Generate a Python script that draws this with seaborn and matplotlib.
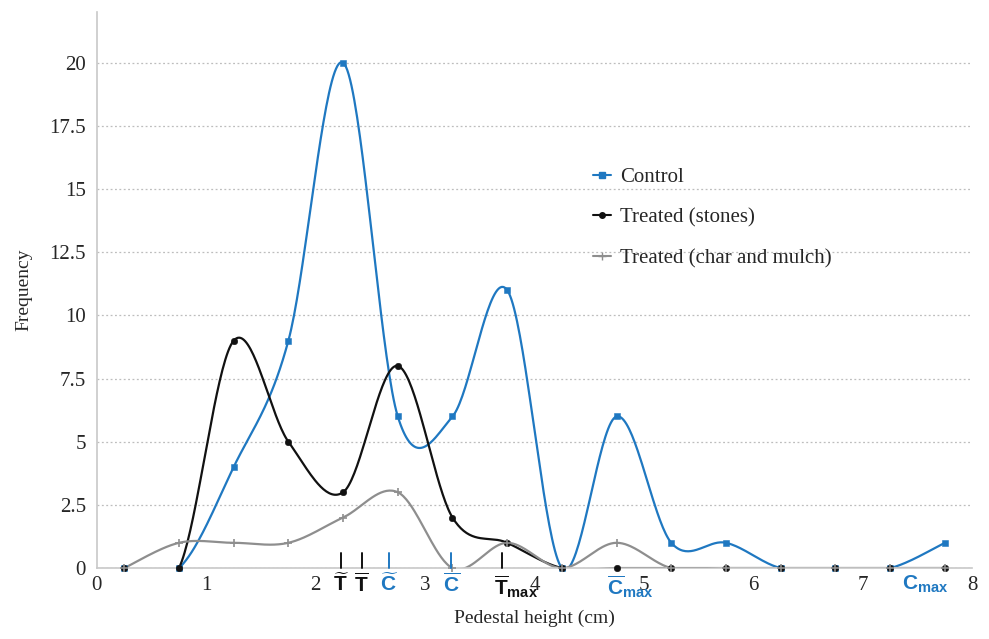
import numpy as np
import pandas as pd
import matplotlib
matplotlib.use("Agg")
import matplotlib.pyplot as plt
from matplotlib.lines import Line2D
import seaborn as sns

# pedestal height classes (cm) and frequencies
heights = [0.25, 0.75, 1.25, 1.75, 2.25, 2.75, 3.25, 3.75, 4.25, 4.75, 5.25, 5.75, 6.25, 6.75, 7.25, 7.75]
control = [0, 0, 4, 9, 20, 6, 6, 11, 0, 6, 1, 1, 0, 0, 0, 1]
stones = [0, 0, 9, 5, 3, 8, 2, 1, 0, 0, 0, 0, 0, 0, 0, 0]
char_mulch = [0, 1, 1, 1, 2, 3, 0, 1, 0, 1, 0, 0, 0, 0, 0, 0]

series_names = ["Control", "Treated (stones)", "Treated (char and mulch)"]
series_values = [control, stones, char_mulch]
colors = ["#1f78c1", "#111111", "#8e8e8e"]
markers = ["s", "o", "+"]

# statistics marked under the axis: label, position, colour, tick, alignment
stat_labels = [r"$\widetilde{\mathbf{T}}$", r"$\overline{\mathbf{T}}$", r"$\widetilde{\mathbf{C}}$",
               r"$\overline{\mathbf{C}}$", r"$\overline{\mathbf{T}}_{\mathbf{max}}$",
               r"$\overline{\mathbf{C}}_{\mathbf{max}}$", r"$\mathbf{C}_{\mathbf{max}}$"]
stat_pos = [2.23, 2.42, 2.67, 3.24, 3.70, 4.75, 7.56]
stat_text_x = [2.23, 2.42, 2.67, 3.24, 3.63, 4.66, 7.57]
stat_align = ["center", "center", "center", "center", "left", "left", "center"]
stat_color = ["#111111", "#111111", "#1f78c1", "#1f78c1", "#111111", "#1f78c1", "#1f78c1"]
stat_tick = [True, True, True, True, True, False, False]


def smooth(x, y, n=40):
    # Excel-style smoothed line (Catmull-Rom as cubic Bezier)
    pts = np.column_stack([x, y]).astype(float)
    P = np.vstack([pts[0], pts, pts[-1]])
    t = np.linspace(0, 1, n)[:, None]
    segs = []
    for i in range(1, len(P) - 2):
        p0, p1, p2, p3 = P[i - 1], P[i], P[i + 1], P[i + 2]
        c1 = p1 + (p2 - p0) / 6
        c2 = p2 - (p3 - p1) / 6
        segs.append((1 - t) ** 3 * p1 + 3 * (1 - t) ** 2 * t * c1 + 3 * (1 - t) * t ** 2 * c2 + t ** 3 * p2)
    return np.vstack(segs)


sns.set_style("white")
plt.rcParams["font.family"] = ["Liberation Serif", "DejaVu Serif"]
plt.rcParams["mathtext.fontset"] = "custom"
plt.rcParams["mathtext.rm"] = "Liberation Sans"
plt.rcParams["mathtext.bf"] = "Liberation Sans:bold"

fig = plt.figure(figsize=(9.89, 6.39), dpi=100)
ax = fig.add_axes([0.098, 0.111, 0.885, 0.870])

for name, vals, c, m in zip(series_names, series_values, colors, markers):
    curve = smooth(heights, vals)
    df = pd.DataFrame({"x": curve[:, 0], "y": curve[:, 1]})
    sns.lineplot(data=df, x="x", y="y", ax=ax, color=c, lw=1.6, sort=False, estimator=None)
    pts = pd.DataFrame({"x": heights, "y": vals})
    if m == "+":
        ax.scatter(pts["x"], pts["y"], marker=m, s=30, color=c, linewidths=1.2, zorder=3, clip_on=False)
    else:
        sns.scatterplot(data=pts, x="x", y="y", ax=ax, marker=m, s=22, color=c, edgecolor=c,
                        zorder=3, clip_on=False)

ax.set_xlim(0, 8)
ax.set_ylim(0, 22)
ax.set_xticks(range(0, 9))
ax.set_yticks(np.arange(0, 20.1, 2.5))
ax.set_yticklabels(["0", "2.5", "5", "7.5", "10", "12.5", "15", "17.5", "20"])
ax.tick_params(axis="x", length=4, color="#c8c8c8", labelsize=15, pad=2)
ax.tick_params(axis="y", length=0, labelsize=15, pad=8)
ax.yaxis.grid(True, ls=(0, (1.5, 2)), color="#bdbdbd", lw=0.9)
ax.xaxis.grid(False)
sns.despine(ax=ax)
for s in ["left", "bottom"]:
    ax.spines[s].set_color("#c8c8c8")
    ax.spines[s].set_linewidth(1.2)

ax.set_xlabel("Pedestal height (cm)", fontsize=14, labelpad=10)
ax.set_ylabel("Frequency", fontsize=14, labelpad=12)

for lab, xp, xt, al, c, tk in zip(stat_labels, stat_pos, stat_text_x, stat_align, stat_color, stat_tick):
    if tk:
        ax.plot([xp, xp], [0, 0.6], color=c, lw=1.4, clip_on=False, zorder=4)
    ax.text(xt, -0.2, lab, color=c, fontsize=15, ha=al, va="top", clip_on=False)

handles = [Line2D([0], [0], color=c, marker=m, markersize=4 if m != "+" else 6, lw=1.5)
           for c, m in zip(colors, markers)]
ax.legend(handles, series_names, loc="upper left", bbox_to_anchor=(0.545, 0.754), frameon=False,
          fontsize=15, handlelength=0.9, handletextpad=0.4, labelspacing=1.0)

fig.savefig("out.png", dpi=100)
